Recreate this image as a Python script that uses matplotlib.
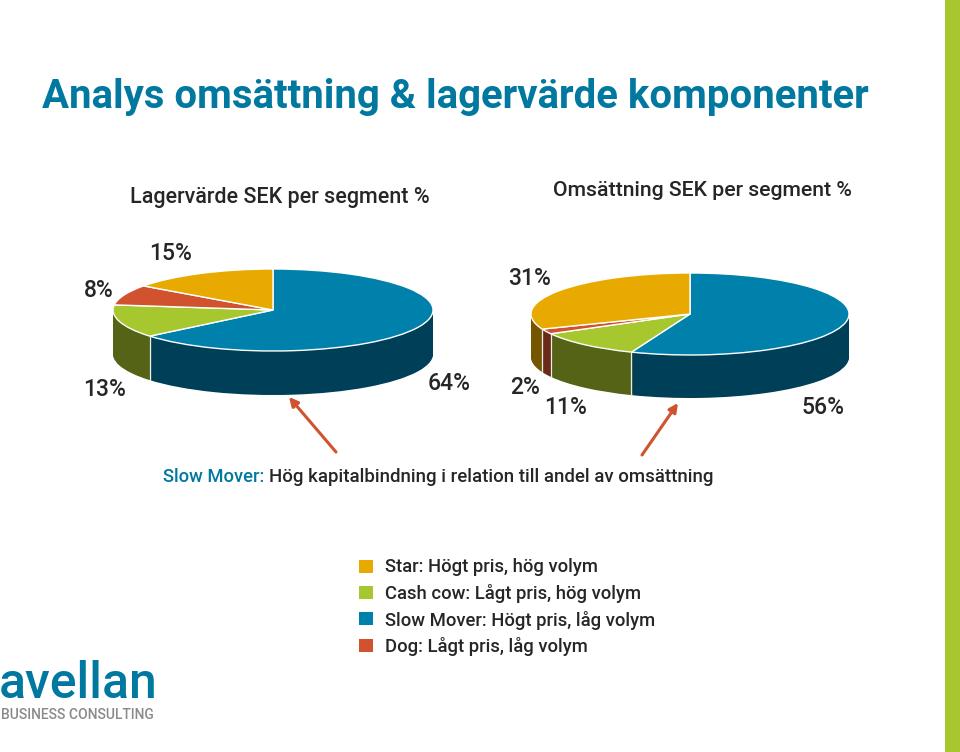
import matplotlib
matplotlib.use("Agg")
import matplotlib.pyplot as plt
from matplotlib.patches import Rectangle, FancyArrowPatch
import numpy as np

W, H = 960, 752
FONT = "Roboto"
plt.rcParams["font.family"] = [FONT, "DejaVu Sans"]

title = "Analys omsättning & lagervärde komponenter"
pie_titles = ["Lagervärde SEK per segment %", "Omsättning SEK per segment %"]
segments = ["Slow Mover", "Cash cow", "Dog", "Star"]
lager_values = [64, 13, 8, 15]
oms_values = [56, 11, 2, 31]
top_colors = ["#0081AB", "#A7C72E", "#D0522F", "#E8A900"]
side_colors = ["#003F58", "#546316", "#6B2A17", "#755600"]
legend_labels = ["Star: Högt pris, hög volym", "Cash cow: Lågt pris, hög volym",
                 "Slow Mover: Högt pris, låg volym", "Dog: Lågt pris, låg volym"]
legend_colors = ["#E8A900", "#A7C72E", "#0081AB", "#D0522F"]
lager_labels = ["64%", "13%", "8%", "15%"]
oms_labels = ["56%", "11%", "2%", "31%"]
note_head = "Slow Mover:"
note_tail = "Hög kapitalbindning i relation till andel av omsättning"

fig = plt.figure(figsize=(W / 100, H / 100), dpi=100, facecolor="white")

def px(x, y):
    return x / W, 1 - y / H

def put(x, y, s, size, color="#262626", **kw):
    kw.setdefault("va", "center")
    return fig.text(*px(x, y), s, fontsize=size, color=color, **kw)

def pie3d(values, cx, cy, rx, ry, depth):
    pad = 4
    left, top = cx - rx - pad, cy - ry - pad
    w, h = 2 * (rx + pad), 2 * (ry + pad) + depth
    ax = fig.add_axes([left / W, 1 - (top + h) / H, w / W, h / H])
    dy = depth / ry
    for off in np.arange(dy, 0, -0.02):
        ax.pie(values, colors=side_colors, startangle=90, counterclock=False,
               center=(0, -off), radius=1, frame=False,
               wedgeprops=dict(linewidth=0))
    ends = 90 - np.cumsum(values) * 3.6
    for a in np.deg2rad(ends):
        if np.sin(a) < 0:
            ax.plot([np.cos(a)] * 2, [np.sin(a), np.sin(a) - dy], color="#E8EEF0", lw=0.9)
    ax.pie(values, colors=top_colors, startangle=90, counterclock=False,
           center=(0, 0), radius=1, frame=False,
           wedgeprops=dict(edgecolor="white", linewidth=1.0))
    ax.set_aspect("auto")
    ax.set_xlim(-1 - pad / rx, 1 + pad / rx)
    ax.set_ylim(-1 - dy - pad / ry, 1 + pad / ry)
    ax.axis("off")
    return ax

pie3d(lager_values, 273, 310, 160, 41, 44)
pie3d(oms_values, 690, 314, 159, 41, 43)

fig.add_artist(Rectangle((945 / W, 0), 15 / W, 1, transform=fig.transFigure,
                         color="#A7C72E", lw=0))

put(42, 97, title, 28.9, "#00789F", fontweight="bold")
put(130, 197, pie_titles[0], 15.5, fontweight="medium")
put(553, 190, pie_titles[1], 15.3, fontweight="medium")

for (x, y), s in zip([(449, 383), (105, 389), (99, 290), (171, 253.5)], lager_labels):
    put(x, y, s, 16.5, ha="center", fontweight="medium")
for (x, y), s in zip([(823, 408), (566, 408), (525, 388), (530, 278)], oms_labels):
    put(x, y, s, 16.5, ha="center", fontweight="medium")

for start, end in [((336, 452), (289, 397)), ((642, 455), (678, 403))]:
    fig.add_artist(FancyArrowPatch(
        px(*start), px(*end), transform=fig.transFigure, arrowstyle="-|>",
        mutation_scale=13, color="#D0522F", lw=2.2, shrinkA=0, shrinkB=0))

put(163, 477, note_head, 13.2, "#00789F", fontweight="medium")
put(269, 477, note_tail, 13.45, fontweight="medium")

for i, (lab, col) in enumerate(zip(legend_labels, legend_colors)):
    y = 566 + i * 26.4
    fig.add_artist(Rectangle(px(359, y + 6.5), 14 / W, 13 / H, transform=fig.transFigure,
                             color=col, lw=0))
    put(385, y + 1.5, lab, 13.3, fontweight="medium")

put(-1, 684, "avellan", 36, "#00789F", fontweight="medium")
put(1, 715, "BUSINESS CONSULTING", 10.0, "#8A8A8A", fontweight="medium")

fig.savefig("out.png", dpi=100)
